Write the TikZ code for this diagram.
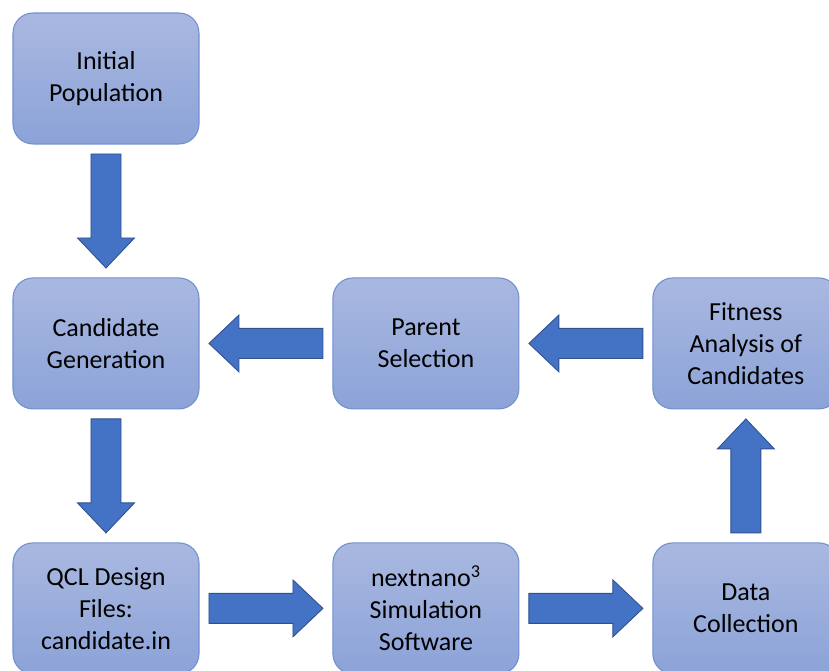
\documentclass[tikz,border=0pt]{standalone}
\usepackage{fontspec}
\setmainfont{Carlito}
\usetikzlibrary{positioning, calc}
\definecolor{boxtop}{RGB}{169,184,224}
\definecolor{boxbottom}{RGB}{140,163,216}
\definecolor{boxedge}{RGB}{114,143,206}
\definecolor{arrowblue}{RGB}{68,114,196}
\definecolor{arrowedge}{RGB}{47,82,143}

\begin{document}
\begin{tikzpicture}[
    x=0.02cm, y=-0.02cm,
    node distance=2.68cm and 2.68cm,
    stage/.style={draw=boxedge, line width=0.6pt, top color=boxtop, bottom color=boxbottom, rounded corners=0.4cm, minimum width=3.72cm, minimum height=2.62cm, outer sep=0pt, align=center, font=\fontsize{14.8}{18.2}\selectfont},
    blockarrow/.style={fill=arrowblue, draw=arrowedge, line width=0.5pt,
        to path={let \p1=(\tikztostart), \p2=(\tikztotarget), \n1={atan2(\y2-\y1,\x2-\x1)}, \n2={veclen(\x2-\x1,\y2-\y1)} in
            {[shift={(\p1)}, rotate=\n1] (5.69pt,8.54pt) -- ({\n2-22.76pt},8.54pt) -- ({\n2-22.76pt},16.2pt) -- ({\n2-5.69pt},0pt) -- ({\n2-22.76pt},-16.2pt) -- ({\n2-22.76pt},-8.54pt) -- (5.69pt,-8.54pt) -- cycle} \tikztonodes}}
]
    \useasboundingbox (0,0) rectangle (829,671);

    % Nodes - top row
    \node[stage] (init) at (106,78.5) {Initial\\Population};

    % Nodes - middle row
    \node[stage, below=of init] (cand) {Candidate\\Generation};
    \node[stage, right=of cand] (parent) {Parent\\Selection};
    \node[stage, right=of parent] (fitness) {Fitness\\Analysis of\\Candidates};

    % Nodes - bottom row
    \node[stage, below=of cand] (qcl) {QCL Design\\Files:\\candidate.in};
    \node[stage, right=of qcl] (nextnano) {nextnano\textsuperscript{3}\\Simulation\\Software};
    \node[stage, right=of nextnano] (data) {Data\\Collection};

    % Arrows
    \draw[blockarrow] (init.south) to (cand.north);
    \draw[blockarrow] (cand.south) to (qcl.north);
    \draw[blockarrow] (qcl.east) to (nextnano.west);
    \draw[blockarrow] (nextnano.east) to (data.west);
    \draw[blockarrow] (data.north) to (fitness.south);
    \draw[blockarrow] (fitness.west) to (parent.east);
    \draw[blockarrow] (parent.west) to (cand.east);
\end{tikzpicture}
\end{document}
